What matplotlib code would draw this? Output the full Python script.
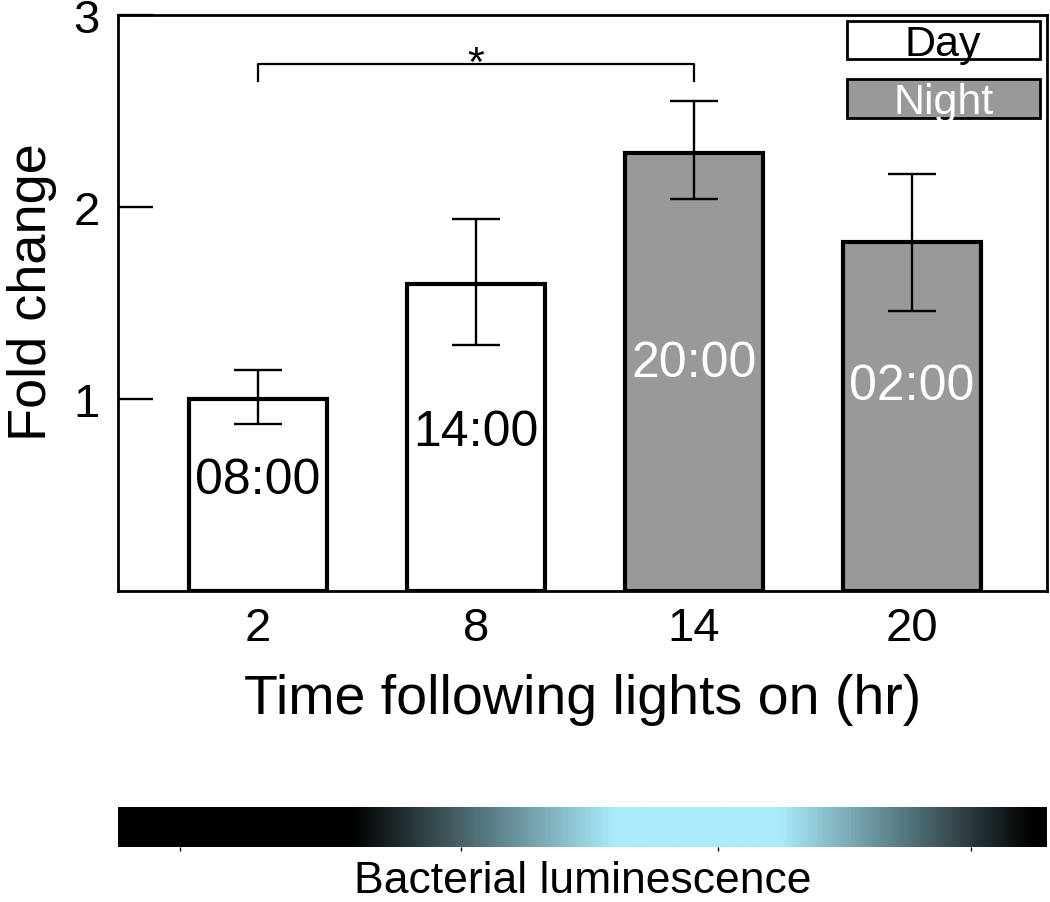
import numpy as np
import matplotlib
matplotlib.use("Agg")
import matplotlib.pyplot as plt
from matplotlib.colors import LinearSegmentedColormap
from matplotlib.patches import Rectangle

plt.rcParams['font.family'] = ['Liberation Sans', 'DejaVu Sans']

# data
hours = ['2', '8', '14', '20']
clock = ['08:00', '14:00', '20:00', '02:00']
fold = [1.00, 1.60, 2.28, 1.82]
err_lo = [0.13, 0.32, 0.24, 0.36]
err_hi = [0.15, 0.34, 0.27, 0.35]
is_night = [False, False, True, True]
label_y = [0.58, 0.83, 1.19, 1.07]

# luminescence gradient: (position, fraction of peak brightness)
lum_pos = [0.0, 0.25, 0.535, 0.713, 0.987, 1.0]
lum_val = [0.0, 0.0, 1.0, 1.0, 0.0, 0.0]
lum_ticks = [0.067, 0.369, 0.646, 0.918]

gray = '#999999'
cyan = (0xaa / 255, 0xec / 255, 0xfb / 255)

fig = plt.figure(figsize=(10.5, 9.03), dpi=100)
ax = fig.add_axes([0.1124, 0.3444, 0.8846, 0.6379])

x = np.arange(len(fold))
colors = [gray if n else 'white' for n in is_night]
ax.bar(x, fold, width=0.635, color=colors, edgecolor='black', linewidth=3.0, zorder=2)
ax.errorbar(x, fold, yerr=[err_lo, err_hi], fmt='none', ecolor='black',
            elinewidth=1.7, capsize=17.5, capthick=1.7, zorder=3)

for i in range(len(fold)):
    ax.text(x[i], label_y[i], clock[i], ha='center', va='center', fontsize=36,
            color='white' if is_night[i] else 'black', zorder=4)

ax.set_xlim(-0.642, 3.62)
ax.set_ylim(0, 3)
ax.set_yticks([1, 2, 3])
ax.set_xticks(x)
ax.set_xticklabels(hours)
ax.tick_params(axis='both', direction='in', length=25, width=1.7, labelsize=34)
ax.tick_params(axis='x', pad=11)
ax.tick_params(axis='y', pad=13)
for s in ax.spines.values():
    s.set_linewidth(2.0)
ax.set_ylabel('Fold change', fontsize=39, labelpad=12)
ax.yaxis.label.set_y(0.52)
ax.set_xlabel('Time following lights on (hr)', fontsize=40, labelpad=16)

# significance bracket
ax.plot([0, 0, 2, 2], [2.655, 2.745, 2.745, 2.655], color='black', lw=1.6, zorder=3)
ax.text(1, 2.64, '*', ha='center', va='bottom', fontsize=31)

# legend boxes
for yb, lab, fc, tc in [(2.869, 'Day', 'white', 'black'), (2.565, 'Night', gray, 'white')]:
    ax.add_patch(Rectangle((3.1445 - 0.4425, yb - 0.0995), 0.885, 0.199, facecolor=fc,
                           edgecolor='black', linewidth=2.0, zorder=5))
    ax.text(3.1445, yb - 0.02, lab, ha='center', va='center', fontsize=31, color=tc, zorder=6)

# luminescence bar
cax = fig.add_axes([0.1124, 0.0609, 0.8846, 0.0443])
cmap = LinearSegmentedColormap.from_list('lum', [(p, tuple(v * c for c in cyan))
                                                 for p, v in zip(lum_pos, lum_val)])
grad = np.linspace(0, 1, 1000)
cax.imshow(grad[np.newaxis, :], aspect='auto', cmap=cmap, extent=[0, 1, 0, 1])
cax.set_xlim(0, 1)
cax.set_ylim(0, 1)
cax.set_yticks([])
cax.set_xticks(lum_ticks)
cax.set_xticklabels([])
cax.tick_params(axis='x', direction='out', length=3, width=1)
for s in cax.spines.values():
    s.set_visible(False)
cax.set_xlabel('Bacterial luminescence', fontsize=32, labelpad=3)

fig.savefig('out.png', dpi=100)
